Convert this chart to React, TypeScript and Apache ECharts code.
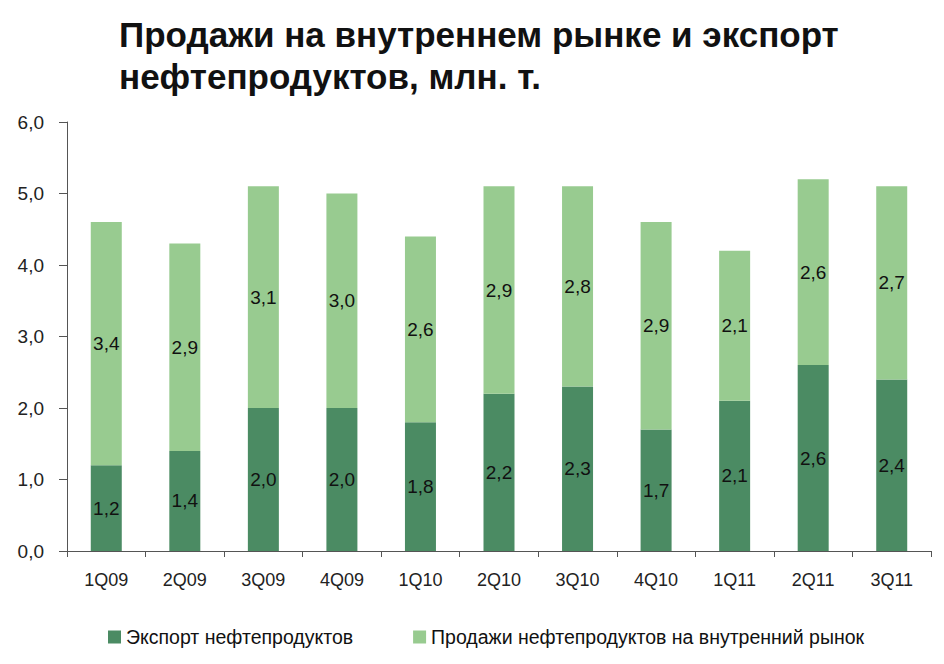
import React, { useEffect, useRef } from "react";
import * as echarts from "echarts";

const categories = ["1Q09", "2Q09", "3Q09", "4Q09", "1Q10", "2Q10", "3Q10", "4Q10", "1Q11", "2Q11", "3Q11"];
const exportValues = [1.2, 1.4, 2.0, 2.0, 1.8, 2.2, 2.3, 1.7, 2.1, 2.6, 2.4];
const domesticValues = [3.4, 2.9, 3.1, 3.0, 2.6, 2.9, 2.8, 2.9, 2.1, 2.6, 2.7];
const seriesNames = ["Экспорт нефтепродуктов", "Продажи нефтепродуктов на внутренний рынок"];
const titleLines = ["Продажи на внутреннем рынке и экспорт", "нефтепродуктов, млн. т."];

const fmt = (v: number) => v.toFixed(1).replace(".", ",");
const FONT = "'Liberation Sans', Arial, sans-serif";

export default function App() {
  const ref = useRef<HTMLDivElement>(null);
  useEffect(() => {
    if (!ref.current) return;
    const chart = echarts.init(ref.current, null, { renderer: "svg" });
    const labelStyle = {
      show: true,
      position: "inside" as const,
      color: "#111",
      fontSize: 19,
      fontFamily: FONT,
      formatter: (p: any) => fmt(p.value),
    };
    chart.setOption({
      animation: false,
      backgroundColor: "#ffffff",
      title: {
        text: titleLines.join("\n"),
        left: 114,
        top: 8,
        textStyle: {
          fontFamily: FONT,
          fontWeight: "bold",
          fontSize: 35,
          lineHeight: 42,
          color: "#111",
        },
      },
      legend: {
        left: 103,
        top: 622,
        itemWidth: 13,
        itemHeight: 13,
        itemGap: 60,
        icon: "rect",
        textStyle: { fontSize: 19.5, fontFamily: FONT, color: "#111" },
        data: seriesNames,
      },
      grid: { left: 67, right: 13, top: 122, bottom: 113, containLabel: false },
      xAxis: {
        type: "category",
        data: categories,
        axisLine: { lineStyle: { color: "#555", width: 1 } },
        axisTick: { show: true, length: 6, lineStyle: { color: "#555" } },
        axisLabel: { fontSize: 18, fontFamily: FONT, color: "#222", margin: 20 },
      },
      yAxis: {
        type: "value",
        min: 0,
        max: 6,
        interval: 1,
        axisLine: { show: true, lineStyle: { color: "#555", width: 1 } },
        axisTick: { show: true, length: 8, lineStyle: { color: "#555" } },
        splitLine: { show: false },
        axisLabel: { fontSize: 19, fontFamily: FONT, color: "#222", margin: 23, formatter: (v: number) => fmt(v) },
      },
      series: [
        {
          name: seriesNames[0],
          type: "bar",
          stack: "total",
          data: exportValues,
          barWidth: 31,
          itemStyle: { color: "#4b8b63" },
          label: labelStyle,
        },
        {
          name: seriesNames[1],
          type: "bar",
          stack: "total",
          data: domesticValues,
          barWidth: 31,
          itemStyle: { color: "#98cb90" },
          label: labelStyle,
        },
      ],
    });
    return () => chart.dispose();
  }, []);
  return <div ref={ref} style={{ width: 944, height: 664, position: "absolute", left: 0, top: 0 }} />;
}
